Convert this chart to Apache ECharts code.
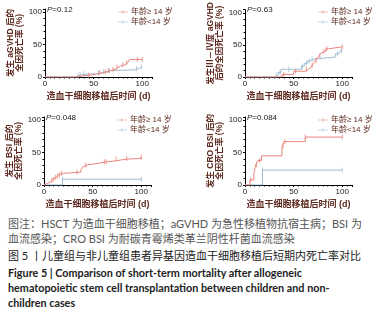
<!DOCTYPE html>
<html>
<head>
<meta charset="utf-8">
<script src="https://cdn.jsdelivr.net/npm/echarts@6/dist/echarts.min.js"></script>
<style>
  body { margin: 0; background: #fff; }
  #chart { position: absolute; left: 0; top: 0; width: 387px; height: 212px; }
  .cap { position: absolute; left: 8px; width: 380px; font-family: Lato, "Noto Sans CJK SC", sans-serif; white-space: nowrap; }
  .note { top: 216px; font-size: 11px; line-height: 15px; color: #555; }
  .title-cn { top: 248px; font-size: 11px; line-height: 15px; color: #222; }
  .title-en { top: 265px; font-size: 10.8px; line-height: 15px; color: #222; font-weight: bold; }
</style>
</head>
<body>
<div id="chart"></div>
<div class="cap note">图注：HSCT 为造血干细胞移植；aGVHD 为急性移植物抗宿主病；BSI 为<br>血流感染；CRO BSI 为耐碳青霉烯类革兰阴性杆菌血流感染</div>
<div class="cap title-cn">图 5 丨儿童组与非儿童组患者异基因造血干细胞移植后短期内死亡率对比</div>
<div class="cap title-en">Figure 5 | Comparison of short-term mortality after allogeneic<br>hematopoietic stem cell transplantation between children and non-<br>children cases</div>
<script>
// Legend / group names
const groups = ['年龄≥ 14 岁', '年龄<14 岁'];
const pValues = ['0.12', '0.63', '0.048', '0.084'];
const yNames = [
    '发生 aGVHD 后的\n全因死亡率 (%)',
    '发生Ⅲ－Ⅳ度 aGVHD\n后的全因死亡率 (%)',
    '发生 BSI 后的\n全因死亡率 (%)',
    '发生 CRO BSI 后的\n全因死亡率 (%)'
];
const xName = '造血干细胞移植后时间 (d)';

// Step curves: [day, cumulative mortality %] (step changes at each day)
const older1 = [[0,0],[31,2],[40,3],[48,5],[55,7],[60,8],[64,10],[68,12],[72,15],[75,17],[78,19],[82,22],[85,25],[87,27],[100,27]];
const young1 = [[0,0],[32,2],[35,4],[38,5],[52,6],[57,8],[63,10],[67,11],[92,13],[97,16],[100,16]];
const older2 = [[0,0],[38,4],[50,9],[62,12],[65,15],[68,18],[70,21],[72,25],[74,29],[76,33],[78,37],[80,40],[83,44],[86,47],[100,47]];
const young2 = [[0,0],[31,3],[34,7],[37,12],[58,17],[61,21],[64,25],[67,28],[71,31],[93,36],[96,38],[98,41],[100,41]];
const older3 = [[0,0],[1,2],[3,3],[5,5],[7,7],[9,9],[11,12],[13,14],[15,16],[17,18],[20,20],[38,24],[40,28],[42,31],[45,34],[58,36],[65,37],[72,40],[85,41],[100,43]];
const young3 = [[0,0],[19,9],[100,9]];
const older4 = [[0,0],[5,8],[9,16],[10,24],[11,31],[13,38],[17,45],[38,60],[40,67],[62,74],[100,74]];
const young4 = [[0,0],[18,23],[100,23]];

// Censor marks
const olderCens1 = [[45,3],[56,7],[62,8],[66,10],[70,12],[74,15],[80,19],[84,22],[95,27],[100,27]];
const youngCens1 = [[34,2],[36,4],[40,5],[55,6],[60,8],[65,10],[94,13],[99,16]];
const olderCens2 = [[40,4],[52,9],[63,12],[69,18],[73,25],[77,33],[81,40],[84,44],[100,47]];
const youngCens2 = [[32,3],[36,7],[45,12],[59,17],[63,21],[66,25],[69,28],[95,36],[99,41]];
const olderCens3 = [[8,7],[10,9],[12,12],[14,14],[16,16],[18,18],[34,20],[43,31],[62,36],[64,36],[74,40],[85,41],[100,43]];
const youngCens3 = [[19,9],[100,9]];
const olderCens4 = [[6,8],[12,31],[15,38],[39,60],[41,67],[62,74],[100,74]];
const youngCens4 = [[18,23],[100,23]];

const curves = [[older1, young1], [older2, young2], [older3, young3], [older4, young4]];
const censors = [[olderCens1, youngCens1], [olderCens2, youngCens2], [olderCens3, youngCens3], [olderCens4, youngCens4]];

const RED = '#ea857c';
const BLUE = '#9fbdd0';
const NAME_COLOR = '#5e2a20';
const FONT = 'Arial, "Noto Sans CJK SC", sans-serif';
const ICON = 'path://M0,4.5h20v1h-20z M9.4,1.5h1.2v7h-1.2z';

const gridPos = [
    { left: 45, top: 9 },
    { left: 245, top: 9 },
    { left: 44, top: 117 },
    { left: 245, top: 117 }
];

const chart = echarts.init(document.getElementById('chart'));

const grid = [], xAxis = [], yAxis = [], series = [], legend = [], title = [];
gridPos.forEach((p, i) => {
    grid.push({ left: p.left, top: p.top, width: 107, height: 68 });
    xAxis.push({
        gridIndex: i, type: 'value', min: 0, max: 110, interval: 50,
        name: xName, nameLocation: 'middle', nameGap: 15,
        nameTextStyle: { fontSize: 9, fontWeight: 'bold', color: NAME_COLOR, fontFamily: FONT },
        axisLine: { lineStyle: { color: '#000', width: 1 } },
        axisTick: { length: 2, lineStyle: { color: '#000' } },
        minorTick: { show: true, splitNumber: 10, length: 1.5, lineStyle: { color: '#000' } },
        axisLabel: { fontSize: 8, color: '#222', margin: 3, showMaxLabel: false, fontFamily: FONT },
        splitLine: { show: false }
    });
    yAxis.push({
        gridIndex: i, type: 'value', min: 0, max: 105, interval: 50,
        name: yNames[i], nameLocation: 'middle', nameGap: 17, nameRotate: 90,
        nameTextStyle: { fontSize: 8.5, lineHeight: 9.5, fontWeight: 'bold', color: NAME_COLOR, fontFamily: FONT },
        axisLine: { show: true, lineStyle: { color: '#000', width: 1 } },
        axisTick: { show: true, length: 2, lineStyle: { color: '#000' } },
        minorTick: { show: true, splitNumber: 5, length: 1.5, lineStyle: { color: '#000' } },
        axisLabel: { fontSize: 8, color: '#222', margin: 3, showMaxLabel: false, fontFamily: FONT },
        splitLine: { show: false }
    });
    [RED, BLUE].forEach((c, k) => {
        series.push({
            name: groups[k], type: 'line', step: 'end', xAxisIndex: i, yAxisIndex: i,
            data: curves[i][k], showSymbol: false, symbol: 'none',
            lineStyle: { color: c, width: 1 }, itemStyle: { color: c },
            animation: false, z: 3 - k
        });
        series.push({
            name: 'cens' + k, type: 'scatter', xAxisIndex: i, yAxisIndex: i,
            data: censors[i][k], symbol: 'rect', symbolSize: [1, 5],
            itemStyle: { color: c }, animation: false, silent: true
        });
    });
    legend.push({
        orient: 'vertical', left: p.left + 73, top: p.top - 1,
        itemWidth: 10, itemHeight: 5, itemGap: 2, padding: 0,
        textStyle: { fontSize: 8, color: NAME_COLOR, fontFamily: FONT, padding: [0, 0, 0, -2] },
        data: [
            { name: groups[0], icon: ICON, itemStyle: { color: RED } },
            { name: groups[1], icon: ICON, itemStyle: { color: BLUE } }
        ]
    });
    title.push({
        text: '{i|P}=' + pValues[i], left: p.left + 2, top: p.top - 3, padding: 0,
        textStyle: { fontSize: 8, fontWeight: 'normal', color: '#222', fontFamily: FONT,
            rich: { i: { fontSize: 8, fontStyle: 'italic', color: '#222', fontFamily: FONT } } }
    });
});

chart.setOption({ animation: false, grid, xAxis, yAxis, series, legend, title });
</script>
</body>
</html>
